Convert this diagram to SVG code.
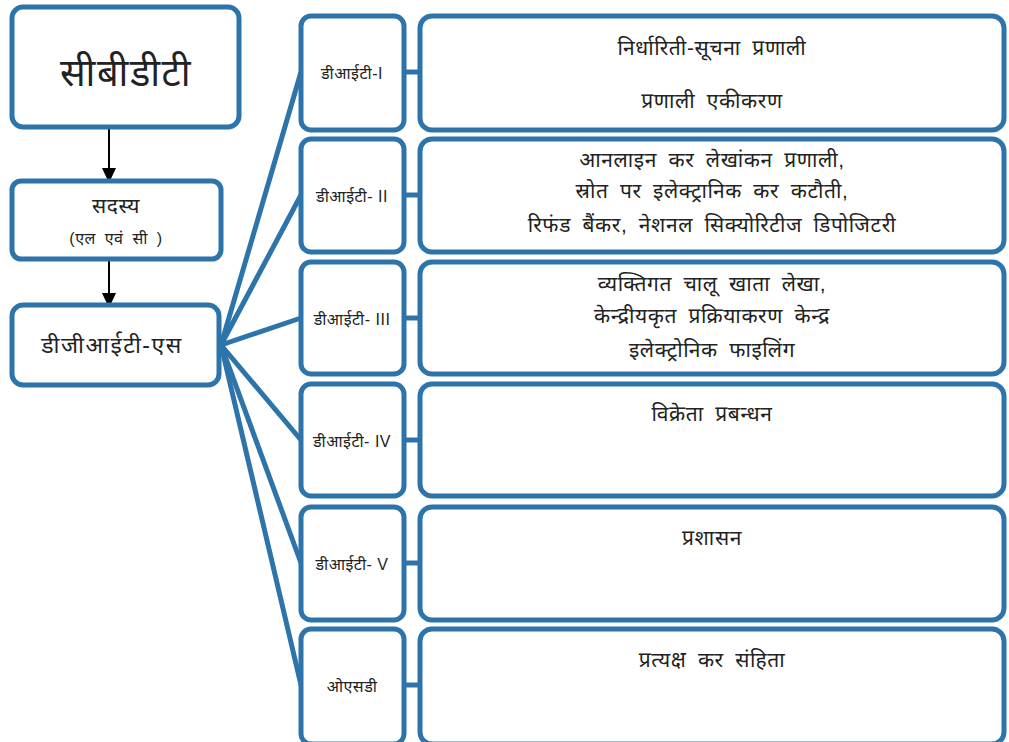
<svg xmlns="http://www.w3.org/2000/svg" width="1009" height="742" viewBox="0 0 1009 742">
<style>
.box{fill:#fff;stroke:#2c74a9;stroke-width:5}
.fan{stroke:#2c74a9;stroke-width:5;fill:none}
.arr{stroke:#000;stroke-width:2;fill:none}
text{font-family:"Liberation Sans","Noto Sans","Noto Sans CJK SC",sans-serif;fill:#222;text-anchor:middle}
.s{font-size:16px;letter-spacing:0.5px}
.m{font-size:21px;word-spacing:5px;letter-spacing:0.6px}
</style>
<defs>
<marker id="ah" markerWidth="15" markerHeight="14" refX="15" refY="7" orient="auto" markerUnits="userSpaceOnUse"><path d="M0,0 L15,7 L0,14 z" fill="#000"/></marker>
</defs>
<rect width="1009" height="742" fill="#fff"/>
<g id="connectors">
<line class="arr" x1="109" y1="128" x2="109" y2="183" marker-end="url(#ah)"/>
<line class="arr" x1="109" y1="261" x2="109" y2="308" marker-end="url(#ah)"/>
<line class="fan" x1="221" y1="345" x2="301" y2="72"/>
<line class="fan" x1="221" y1="345" x2="301" y2="195"/>
<line class="fan" x1="221" y1="345" x2="301" y2="318"/>
<line class="fan" x1="221" y1="345" x2="301" y2="440"/>
<line class="fan" x1="221" y1="345" x2="301" y2="563"/>
<line class="fan" x1="221" y1="345" x2="301" y2="685"/>
<line class="fan" x1="404" y1="72" x2="420" y2="72"/>
<line class="fan" x1="404" y1="195" x2="420" y2="195"/>
<line class="fan" x1="404" y1="318" x2="420" y2="318"/>
<line class="fan" x1="404" y1="440" x2="420" y2="440"/>
<line class="fan" x1="404" y1="563" x2="420" y2="563"/>
<line class="fan" x1="404" y1="685" x2="420" y2="685"/>
</g>
<g id="cbdt"><rect class="box" x="12" y="7" width="227" height="120" rx="11"/><text x="126" y="86" style="font-size:38px;letter-spacing:1.5px">सीबीडीटी</text></g>
<g id="sadasya"><rect class="box" x="12" y="181" width="209" height="78" rx="9"/><text class="m" x="116" y="213">सदस्य</text><text class="s" x="116" y="244" style="word-spacing:4px">(एल एवं सी )</text></g>
<g id="dgits"><rect class="box" x="12" y="305" width="207" height="80" rx="11"/><text class="m" x="112" y="353" style="font-size:23px;letter-spacing:1.5px">डीजीआईटी-एस</text></g>
<g id="dit1"><rect class="box" x="301" y="16" width="103" height="114" rx="10"/><text class="s" x="352" y="79">डीआईटी-I</text></g>
<g id="dit2"><rect class="box" x="301" y="139" width="103" height="113" rx="10"/><text class="s" x="352" y="202">डीआईटी- II</text></g>
<g id="dit3"><rect class="box" x="301" y="262" width="103" height="112" rx="10"/><text class="s" x="352" y="325">डीआईटी- III</text></g>
<g id="dit4"><rect class="box" x="301" y="384" width="103" height="112" rx="10"/><text class="s" x="352" y="447">डीआईटी- IV</text></g>
<g id="dit5"><rect class="box" x="301" y="507" width="103" height="113" rx="10"/><text class="s" x="352" y="570">डीआईटी- V</text></g>
<g id="osd"><rect class="box" x="301" y="629" width="103" height="115" rx="10"/><text class="s" x="352" y="692">ओएसडी</text></g>
<g id="d1"><rect class="box" x="420" y="16" width="584" height="114" rx="12"/><text class="m" x="712" y="55">निर्धारिती-सूचना प्रणाली</text><text class="m" x="712" y="108">प्रणाली एकीकरण</text></g>
<g id="d2"><rect class="box" x="420" y="139" width="584" height="113" rx="12"/><text class="m" x="712" y="167">आनलाइन कर लेखांकन प्रणाली,</text><text class="m" x="712" y="198">स्रोत पर इलेक्ट्रानिक कर कटौती,</text><text class="m" x="712" y="232">रिफंड बैंकर, नेशनल सिक्योरिटीज डिपोजिटरी</text></g>
<g id="d3"><rect class="box" x="420" y="262" width="584" height="112" rx="12"/><text class="m" x="712" y="291">व्यक्तिगत चालू खाता लेखा,</text><text class="m" x="712" y="323">केन्द्रीयकृत प्रक्रियाकरण केन्द्र</text><text class="m" x="712" y="357">इलेक्ट्रोनिक फाइलिंग</text></g>
<g id="d4"><rect class="box" x="420" y="384" width="584" height="112" rx="12"/><text class="m" x="712" y="421">विक्रेता प्रबन्धन</text></g>
<g id="d5"><rect class="box" x="420" y="507" width="584" height="113" rx="12"/><text class="m" x="712" y="545">प्रशासन</text></g>
<g id="d6"><rect class="box" x="420" y="629" width="584" height="115" rx="12"/><text class="m" x="712" y="667">प्रत्यक्ष कर संहिता</text></g>
</svg>
